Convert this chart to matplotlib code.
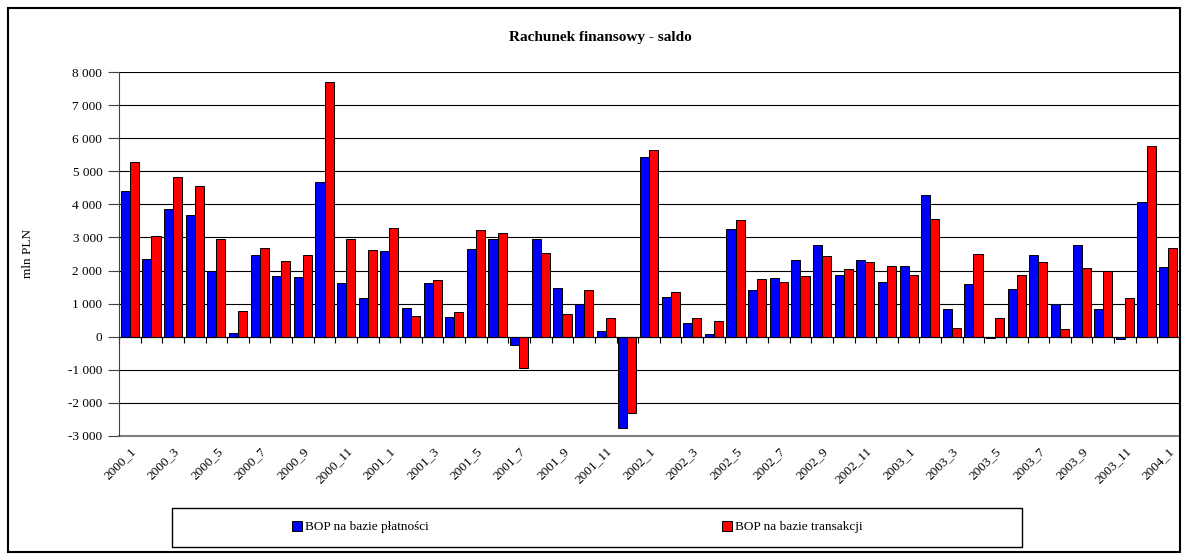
import numpy as np
import matplotlib
matplotlib.use('Agg')
import matplotlib.pyplot as plt
from matplotlib.patches import Rectangle
from matplotlib.ticker import FuncFormatter, FixedLocator

plt.rcParams['font.family'] = ['Liberation Serif', 'DejaVu Serif']

# Data (mln PLN), monthly 2000_1 .. 2004_1
years = [2000, 2001, 2002, 2003, 2004]
categories = [f"{y}_{m}" for y in years for m in range(1, 13)][:49]

platnosci = [4415, 2339, 3861, 3669, 1986, 101, 2470, 1845, 1794, 4667, 1623, 1169,
             2580, 877, 1623, 595, 2641, 2943, -262, 2943, 1472, 988, 171, -2752,
             5443, 1200, 413, 81, 3266, 1421, 1784, 2328, 2762, 1875, 2328, 1643,
             2127, 4284, 827, 1593, -30, 1441, 2460, 988, 2762, 827, -81, 4062,
             2097]
transakcji = [5272, 3034, 4818, 4556, 2943, 766, 2671, 2298, 2460, 7691, 2943, 2611,
              3296, 625, 1704, 736, 3216, 3125, -937, 2520, 675, 1421, 564, -2318,
              5645, 1361, 564, 474, 3518, 1734, 1643, 1845, 2439, 2046, 2268, 2147,
              1875, 3548, 252, 2500, 564, 1865, 2248, 222, 2066, 1996, 1159, 5756,
              2671]

series_names = ['BOP na bazie płatności', 'BOP na bazie transakcji']
colors = ['#0000FF', '#FF0000']

W, H = 1188, 559
fig = plt.figure(figsize=(W / 100, H / 100), dpi=100)
ax = fig.add_axes([119 / W, 1 - 436 / H, (1179 - 119) / W, (436 - 72) / H])

x = np.arange(len(categories))
bw = 0.42
ax.bar(x - bw / 2, platnosci, bw, color=colors[0], edgecolor='black', linewidth=0.7,
       label=series_names[0], zorder=3)
ax.bar(x + bw / 2, transakcji, bw, color=colors[1], edgecolor='black', linewidth=0.7,
       label=series_names[1], zorder=3)

ax.set_xlim(-0.5, len(categories) - 0.5)
ax.set_ylim(-3000, 8000)
ax.set_yticks(np.arange(-3000, 8001, 1000))
ax.yaxis.set_major_formatter(FuncFormatter(lambda v, p: f"{int(v):,}".replace(',', ' ')))
ax.grid(axis='y', color='black', linewidth=0.8, zorder=0)
ax.set_axisbelow(True)
# plot area bottom border
ax.axhline(-3000, color='#808080', linewidth=1.5, clip_on=False, zorder=1)

# category axis crosses at 0, labels at the bottom
ax.spines['bottom'].set_position(('data', 0))
ax.spines['bottom'].set_color('black')
ax.spines['bottom'].set_zorder(4)
ax.spines['top'].set_visible(False)
ax.spines['right'].set_color('#808080')
ax.spines['left'].set_color('#404040')
ax.set_xticks(x[::2])
ax.set_xticklabels(categories[::2], rotation=45, ha='right', va='top', rotation_mode='anchor')
ax.xaxis.set_minor_locator(FixedLocator(np.arange(-0.5, len(categories), 1)))
ax.tick_params(axis='x', which='major', length=0, pad=78, labelsize=9.5)
ax.tick_params(axis='x', which='minor', length=4, width=0.8, direction='out', color='black')
ax.tick_params(axis='y', length=8, width=0.8, color='#404040', labelsize=9.5, pad=4)

ax.set_ylabel('mln PLN', fontsize=9.5)
ax.yaxis.set_label_coords(-0.080, 0.5)

fig.text(0.505, 1 - 37 / H, 'Rachunek finansowy - saldo', ha='center', va='center',
         fontsize=11, fontweight='bold')

# legend box
fig.patches.append(Rectangle((172 / W, 1 - 547 / H), (1022 - 172) / W, 39 / H,
                             transform=fig.transFigure, fill=False, edgecolor='black',
                             linewidth=1.0))
fig.legend(loc='center', bbox_to_anchor=(577 / W, 1 - 527 / H), ncol=2, frameon=False,
           fontsize=9.5, handlelength=0.8, handleheight=0.8, handletextpad=0.2,
           columnspacing=22.2)

# outer border
fig.patches.append(Rectangle((8 / W, 1 - 552 / H), 1172 / W, 544 / H,
                             transform=fig.transFigure, fill=False, edgecolor='black',
                             linewidth=1.5))

fig.savefig('out.png', dpi=100)
